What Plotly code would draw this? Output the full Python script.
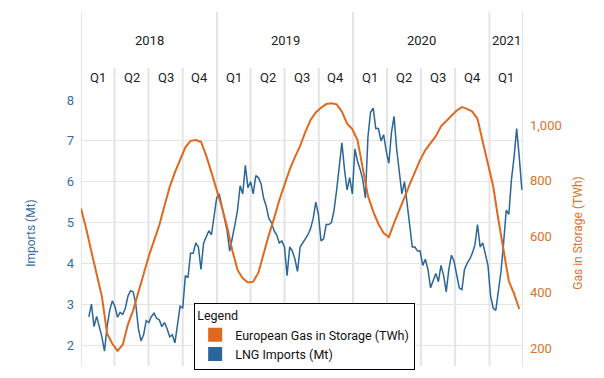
import pandas as pd
import plotly.graph_objects as go

# ---------------- data ----------------
storage_start = "2018-01-01"   # biweekly readings
storage_twh = [700, 628, 545, 462, 385, 252, 215, 190, 212, 285,
               335, 400, 470, 530, 585, 640, 710, 778, 830, 875,
               920, 943, 946, 940, 890, 830, 770, 705, 635, 550,
               480, 450, 435, 438, 470, 540, 605, 665, 730, 785,
               840, 885, 925, 975, 1018, 1045, 1062, 1075, 1078, 1074,
               1048, 1005, 985, 945, 840, 745, 690, 645, 612, 598,
               648, 697, 740, 787, 833, 875, 910, 935, 960, 995,
               1015, 1033, 1052, 1064, 1058, 1048, 1022, 940, 855, 780,
               660, 548, 440, 395, 340]

lng_start = "2018-01-22"       # weekly readings
lng_mt = [2.69, 3.0, 2.45, 2.7, 2.45, 2.2, 1.85, 2.45, 2.85, 3.08,
          2.95, 2.68, 2.8, 2.75, 2.9, 3.2, 3.33, 3.3, 3.0, 2.4,
          2.1, 2.25, 2.6, 2.55, 2.7, 2.78, 2.65, 2.62, 2.45, 2.55,
          2.4, 2.2, 2.25, 2.05, 2.5, 2.95, 2.9, 3.7, 3.65, 4.25,
          4.25, 4.5, 4.4, 3.85, 4.5, 4.65, 4.8, 4.7, 5.1, 5.6,
          5.7, 5.4, 5.1, 4.8, 4.3, 4.6, 4.95, 5.3, 5.9, 5.7,
          6.4, 5.85, 6.0, 5.7, 6.15, 6.1, 5.95, 5.6, 5.4, 5.1,
          5.0, 4.8, 4.7, 4.5, 4.55, 4.4, 3.7, 4.4, 4.3, 4.1,
          3.8, 4.4, 4.5, 4.6, 4.7, 4.85, 5.1, 5.5, 5.2, 4.55,
          4.6, 4.95, 4.95, 5.0, 5.3, 5.8, 6.45, 6.95, 6.3, 5.8,
          6.1, 5.7, 6.8, 6.5, 6.3, 6.05, 5.6, 7.1, 7.7, 7.8,
          7.3, 7.3, 7.0, 7.15, 6.75, 6.45, 7.2, 7.6, 6.8, 6.2,
          5.7, 6.0, 5.5, 4.9, 4.4, 4.4, 4.3, 4.3, 3.95, 4.1,
          3.85, 3.4, 3.6, 3.75, 3.55, 3.95, 3.7, 3.3, 3.85, 4.2,
          4.05, 3.7, 3.4, 3.35, 3.85, 4.0, 4.1, 4.25, 4.45, 4.95,
          4.4, 4.5, 4.2, 3.95, 3.2, 2.9, 2.85, 3.3, 3.8, 4.5,
          5.3, 5.2, 6.05, 6.6, 7.3, 6.6, 5.8]

year_labels = ["2018", "2019", "2020", "2021"]
quarter_labels = ["Q1", "Q2", "Q3", "Q4"]
axis_start, axis_end = "2018-01-01", "2021-04-01"
left_ticks = [2, 3, 4, 5, 6, 7, 8]
right_ticks = [200, 400, 600, 800, 1000]

# ---------------- styling ----------------
ORANGE = "#E0691F"
BLUE = "#2A6699"
BLUE_TXT = "#3A6EA5"
ORANGE_TXT = "#D9732B"
GRID = "#E4E4E4"
FONT = "Roboto"

storage_dates = pd.date_range(storage_start, periods=len(storage_twh), freq="14D")
lng_dates = pd.date_range(lng_start, periods=len(lng_mt), freq="7D")

fig = go.Figure()
fig.add_trace(go.Scatter(x=lng_dates, y=lng_mt, mode="lines",
                         line=dict(color=BLUE, width=1.5), showlegend=False,
                         name="LNG Imports (Mt)"))
fig.add_trace(go.Scatter(x=storage_dates, y=storage_twh, mode="lines", yaxis="y2",
                         line=dict(color=ORANGE, width=2), showlegend=False,
                         name="European Gas in Storage (TWh)"))
# legend swatches
fig.add_trace(go.Scatter(x=[None], y=[None], mode="markers", name="European Gas in Storage (TWh)",
                         marker=dict(symbol="square", size=14, color=ORANGE)))
fig.add_trace(go.Scatter(x=[None], y=[None], mode="markers", name="LNG Imports (Mt)",
                         marker=dict(symbol="square", size=14, color=BLUE)))

# header: quarter / year separators and labels
q_starts = pd.date_range(axis_start, axis_end, freq="QS")
shapes = []
annotations = []
for i, d in enumerate(q_starts):
    is_year = d.month == 1 or i == len(q_starts) - 1
    shapes.append(dict(type="line", xref="x", yref="paper", x0=d, x1=d,
                       y0=0, y1=1.331 if is_year else 1.12,
                       line=dict(color=GRID, width=2), layer="below"))
for i in range(len(q_starts) - 1):
    a, b = q_starts[i], q_starts[i + 1]
    mid = a + (b - a) / 2
    annotations.append(dict(x=mid, y=1.083, xref="x", yref="paper", yanchor="middle",
                            text=quarter_labels[(a.month - 1) // 3], showarrow=False,
                            font=dict(family=FONT, size=13, color="#222")))
for yl in year_labels:
    a = pd.Timestamp(f"{yl}-01-01")
    b = min(pd.Timestamp(f"{int(yl)+1}-01-01"), pd.Timestamp(axis_end))
    mid = a + (b - a) / 2
    annotations.append(dict(x=mid, y=1.222, xref="x", yref="paper", yanchor="middle",
                            text=yl, showarrow=False,
                            font=dict(family=FONT, size=13, color="#222")))

fig.update_layout(
    width=596, height=370,
    margin=dict(l=73, r=81, t=92, b=12, autoexpand=False),
    paper_bgcolor="white", plot_bgcolor="white",
    font=dict(family=FONT, size=13, color="#222"),
    xaxis=dict(type="date", range=[axis_start, axis_end], showgrid=False, automargin=False,
               showticklabels=False, zeroline=False, showline=False, ticks=""),
    yaxis=dict(range=[1.486, 8.0], tickvals=left_ticks, showgrid=True, gridcolor=GRID,
               gridwidth=1, zeroline=False, showline=False, ticks="", automargin=False,
               tickfont=dict(family=FONT, size=13, color=BLUE_TXT),
               ticklabelstandoff=6,
               title=dict(text="Imports (Mt)", standoff=28,
                          font=dict(family=FONT, size=12, color=BLUE_TXT))),
    yaxis2=dict(range=[135.4, 1089.6], tickvals=right_ticks, tickformat=",",
                overlaying="y", side="right", showgrid=False, zeroline=False, automargin=False,
                showline=False, ticks="", ticklabelstandoff=6,
                tickfont=dict(family=FONT, size=13, color=ORANGE_TXT),
                title=dict(text="Gas in Storage (TWh)", standoff=12,
                           font=dict(family=FONT, size=12, color=ORANGE_TXT))),
    legend=dict(x=0.256, y=0.237, xanchor="left", yanchor="top",
                bgcolor="white", bordercolor="black", borderwidth=1,
                title=dict(text="Legend", font=dict(family=FONT, size=12.5, color="#111")),
                font=dict(family=FONT, size=12.5, color="#111"),
                tracegroupgap=0),
    shapes=shapes,
    annotations=annotations,
)

fig.write_html("out.html")
